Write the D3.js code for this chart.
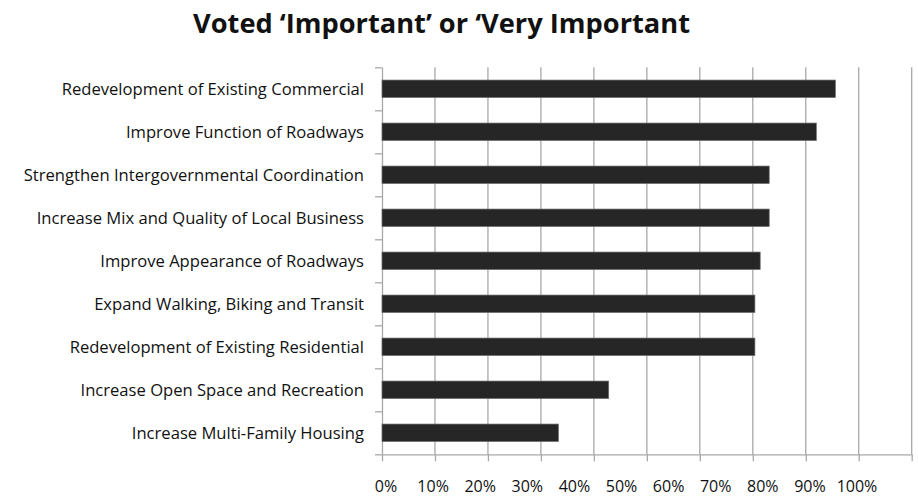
<!DOCTYPE html>
<html>
<head>
<meta charset="utf-8">
<script src="https://cdn.jsdelivr.net/npm/d3@7"></script>
<style>
  html, body { margin: 0; padding: 0; background: #fff; }
  svg { display: block; }
  text { font-family: "Open Sans", Lato, sans-serif; fill: #111; }
</style>
</head>
<body>
<svg id="chart" width="918" height="496"></svg>
<script>
// Survey priorities: share of respondents voting "Important" or "Very Important"
const categories = [
  "Redevelopment of Existing Commercial",
  "Improve Function of Roadways",
  "Strengthen Intergovernmental Coordination",
  "Increase Mix and Quality of Local Business",
  "Improve Appearance of Roadways",
  "Expand Walking, Biking and Transit",
  "Redevelopment of Existing Residential",
  "Increase Open Space and Recreation",
  "Increase Multi-Family Housing"
];
const shares = [0.856, 0.820, 0.731, 0.731, 0.714, 0.704, 0.704, 0.428, 0.333];
const tickValues = [0, 0.1, 0.2, 0.3, 0.4, 0.5, 0.6, 0.7, 0.8, 0.9, 1.0];
const tickLabels = ["0%", "10%", "20%", "30%", "40%", "50%", "60%", "70%", "80%", "90%", "100%"];
const title = "Voted \u2018Important\u2019 or \u2018Very Important";

const svg = d3.select("#chart");
const plot = { left: 382, right: 911.7, top: 67.3, bottom: 454.3 };
const gridColor = "#a8a8a8";

const x = d3.scaleLinear().domain([0, 1]).range([plot.left, plot.right]);
const y = d3.scaleBand()
  .domain(categories)
  .range([plot.top, plot.bottom])
  .paddingInner(0.593)
  .paddingOuter(0.2965);

// Percent labels row under the plot
const labelX = d3.scalePoint().domain(tickLabels).range([386, 857]);

// Title
svg.append("text")
  .attr("x", 441.5)
  .attr("y", 33)
  .attr("text-anchor", "middle")
  .style("font-weight", "700")
  .style("font-size", "27px")
  .attr("textLength", 497)
  .attr("lengthAdjust", "spacingAndGlyphs")
  .text(title);

// Vertical gridlines
svg.append("g")
  .selectAll("line")
  .data(tickValues.slice(1))
  .join("line")
  .attr("x1", d => x(d)).attr("x2", d => x(d))
  .attr("y1", plot.top).attr("y2", plot.bottom)
  .attr("stroke", gridColor)
  .attr("stroke-width", 1.3);

// Bottom axis with outward ticks
const xAxis = d3.axisBottom(x).tickValues(tickValues).tickSize(7).tickSizeOuter(0).tickFormat("");
const gx = svg.append("g").attr("transform", `translate(0,${plot.bottom})`).call(xAxis);
gx.select(".domain").attr("stroke", gridColor).attr("stroke-width", 1.3);
gx.selectAll(".tick line").attr("stroke", gridColor).attr("stroke-width", 1.3);

// Left axis: ticks at category boundaries
const boundaries = d3.range(categories.length + 1).map(i => plot.top + i * y.step());
const yB = d3.scaleLinear().domain([plot.top, plot.bottom]).range([plot.top, plot.bottom]);
const yAxis = d3.axisLeft(yB).tickValues(boundaries).tickSize(7).tickSizeOuter(0).tickFormat("");
const gy = svg.append("g").attr("transform", `translate(${plot.left},0)`).call(yAxis);
gy.select(".domain").attr("stroke", gridColor).attr("stroke-width", 1.3);
gy.selectAll(".tick line").attr("stroke", gridColor).attr("stroke-width", 1.3);

// Bars
svg.append("g")
  .selectAll("rect")
  .data(categories)
  .join("rect")
  .attr("x", x(0))
  .attr("y", d => y(d))
  .attr("width", (d, i) => x(shares[i]) - x(0))
  .attr("height", y.bandwidth())
  .attr("fill", "#262626")
  .attr("stroke", "#6e6e6e")
  .attr("stroke-width", 0.7);

// Category labels
svg.append("g")
  .selectAll("text")
  .data(categories)
  .join("text")
  .attr("x", 364)
  .attr("y", d => y(d) + y.bandwidth() / 2)
  .attr("dy", "0.36em")
  .attr("text-anchor", "end")
  .style("font-size", "16.6px")
  .text(d => d);

// Percent labels
svg.append("g")
  .selectAll("text")
  .data(tickLabels)
  .join("text")
  .attr("x", d => labelX(d))
  .attr("y", 491.5)
  .attr("text-anchor", "middle")
  .style("font-size", "16px")
  .text(d => d);
</script>
</body>
</html>
